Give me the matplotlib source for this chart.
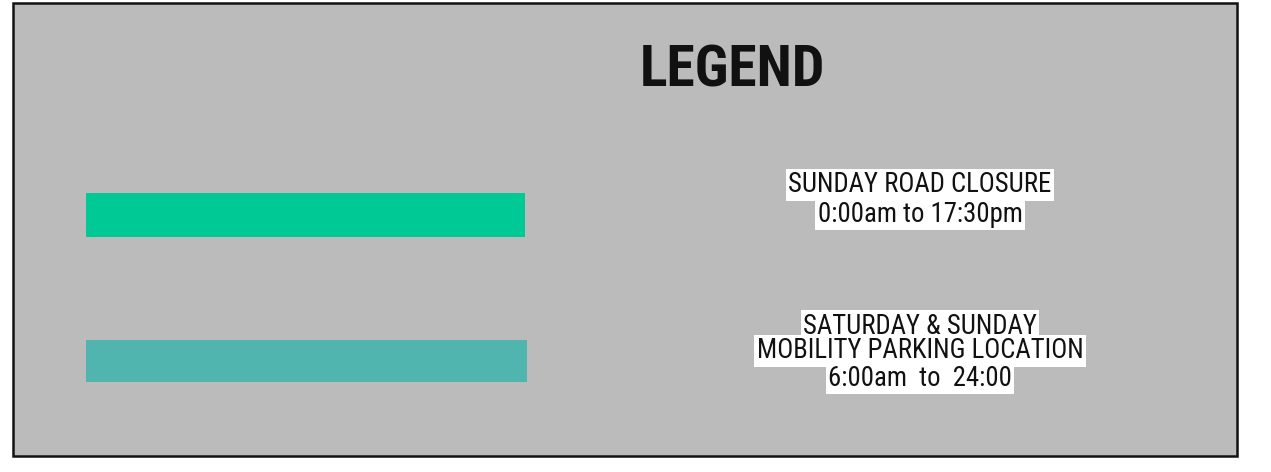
import matplotlib.pyplot as plt
from matplotlib.patches import Rectangle

# legend entries
entry_lines = [
    ["SUNDAY ROAD CLOSURE", "0:00am to 17:30pm"],
    ["SATURDAY & SUNDAY", "MOBILITY PARKING LOCATION", "6:00am  to  24:00"],
]
entry_colors = ["#00C995", "#50B5AF"]
bar_left = [86, 86]
bar_width = [439, 441]
bar_center = [215, 361]
bar_height = [44, 42]

fonts = ["Roboto Condensed", "Liberation Sans", "DejaVu Sans"]

fig = plt.figure(figsize=(12.71, 4.72), dpi=100)
ax = fig.add_axes([0, 0, 1, 1])
ax.set_xlim(0, 1271)
ax.set_ylim(472, 0)
ax.axis("off")

# grey panel with black frame
ax.add_patch(Rectangle((13, 3), 1224, 453, facecolor="#BBBBBB",
                       edgecolor="#111111", linewidth=1.8, zorder=0))

ax.text(732, 71, "LEGEND", ha="center", va="center", fontsize=41.5,
        fontweight="bold", family=fonts, color="#111111")

# colour bars
ax.barh(bar_center, bar_width, height=bar_height, left=bar_left,
        color=entry_colors, zorder=2)

# label lines, each on its own white box
line_y = [[185, 214], [326, 351, 378]]
for lines, ys in zip(entry_lines, line_y):
    for txt, y in zip(lines, ys):
        ax.text(920, y, txt, ha="center", va="center", fontsize=19.3,
                family=fonts, color="#111111", zorder=3,
                bbox=dict(boxstyle="square,pad=0.08", facecolor="white",
                          edgecolor="none"))

fig.savefig("out.png", dpi=100)
